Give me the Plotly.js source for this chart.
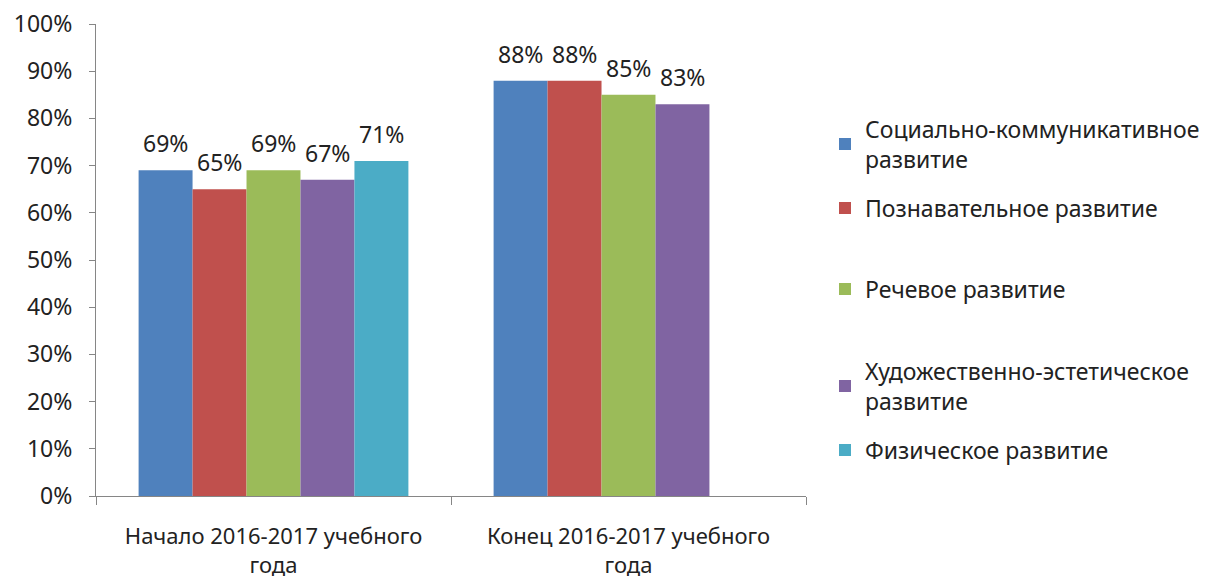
<!DOCTYPE html>
<html><head><meta charset="utf-8">
<script src="https://cdn.plot.ly/plotly-3.0.1.min.js"></script>
<style>html,body{margin:0;padding:0;background:#fff}</style>
</head><body>
<div id="chart" style="width:1208px;height:582px"></div>
<script>
const categories = ["Начало 2016-2017 учебного<br>года", "Конец 2016-2017 учебного<br>года"];
const seriesNames = ["Социально-коммуникативное<br>развитие", "Познавательное развитие", "Речевое развитие", "Художественно-эстетическое<br>развитие", "Физическое развитие"];
const social = [0.69, 0.88];
const cognitive = [0.65, 0.88];
const speech = [0.69, 0.85];
const artistic = [0.67, 0.83];
const physical = [0.71, null];
const yTickVals = [0,0.1,0.2,0.3,0.4,0.5,0.6,0.7,0.8,0.9,1.0];
const yTickText = ["0%","10%","20%","30%","40%","50%","60%","70%","80%","90%","100%"];

const colors = ["#4F81BD","#C0504D","#9BBB59","#8064A2","#4BACC6"];
const values = [social, cognitive, speech, artistic, physical];
const legendIds = ["legend","legend2","legend3","legend4","legend5"];
const legendY = [144, 208, 289, 386, 450];
const FONT = "Noto Sans, sans-serif";

const W = 1208, H = 582;
const margin = {l:96, r:402, t:24, b:86};
const bargap = 0.24;
const nSeries = values.length;
const catWidthPx = (W - margin.l - margin.r) / categories.length;
const barWidthPx = catWidthPx * (1 - bargap) / nSeries;

const traces = values.map((v,i)=>({
  type:"bar", x:categories, y:v, name:seriesNames[i],
  marker:{color:colors[i]},
  legend:legendIds[i], hoverinfo:"skip"
}));

const annotations = [];
values.forEach((v,i)=>{
  v.forEach((d,j)=>{
    if (d == null) return;
    annotations.push({
      x:categories[j], y:d, xref:"x", yref:"y",
      text:Math.round(d*100)+"%", showarrow:false,
      xanchor:"center", yanchor:"middle",
      xshift:(i-(nSeries-1)/2)*barWidthPx, yshift:27,
      font:{family:FONT,size:23,color:"#222"}
    });
  });
});

const layout = {
  width:W, height:H, margin:margin,
  paper_bgcolor:"#fff", plot_bgcolor:"#fff",
  barmode:"group", bargap:bargap, bargroupgap:0,
  font:{family:FONT, color:"#222"},
  xaxis:{type:"category", showline:true, linecolor:"#868686", linewidth:1,
    ticks:"outside", tickson:"boundaries", ticklen:8, tickcolor:"#868686",
    ticklabelstandoff:21,
    tickfont:{family:FONT,size:22,color:"#222"}, showgrid:false, zeroline:false},
  yaxis:{range:[0,1], tickvals:yTickVals, ticktext:yTickText, showline:true,
    linecolor:"#868686", linewidth:1, ticks:"outside", ticklen:6, tickcolor:"#868686",
    ticklabelstandoff:12,
    showgrid:false, zeroline:false, tickfont:{family:FONT,size:23,color:"#222"}},
  annotations:annotations,
  showlegend:true
};
legendIds.forEach((id,i)=>{
  layout[id] = {x:825/W, xref:"container", xanchor:"left",
    y:1-legendY[i]/H, yref:"container", yanchor:"middle",
    bgcolor:"rgba(0,0,0,0)", font:{family:FONT,size:23,color:"#222"}};
});
Plotly.newPlot("chart", traces, layout, {displayModeBar:false, staticPlot:true});
</script>
</body></html>
